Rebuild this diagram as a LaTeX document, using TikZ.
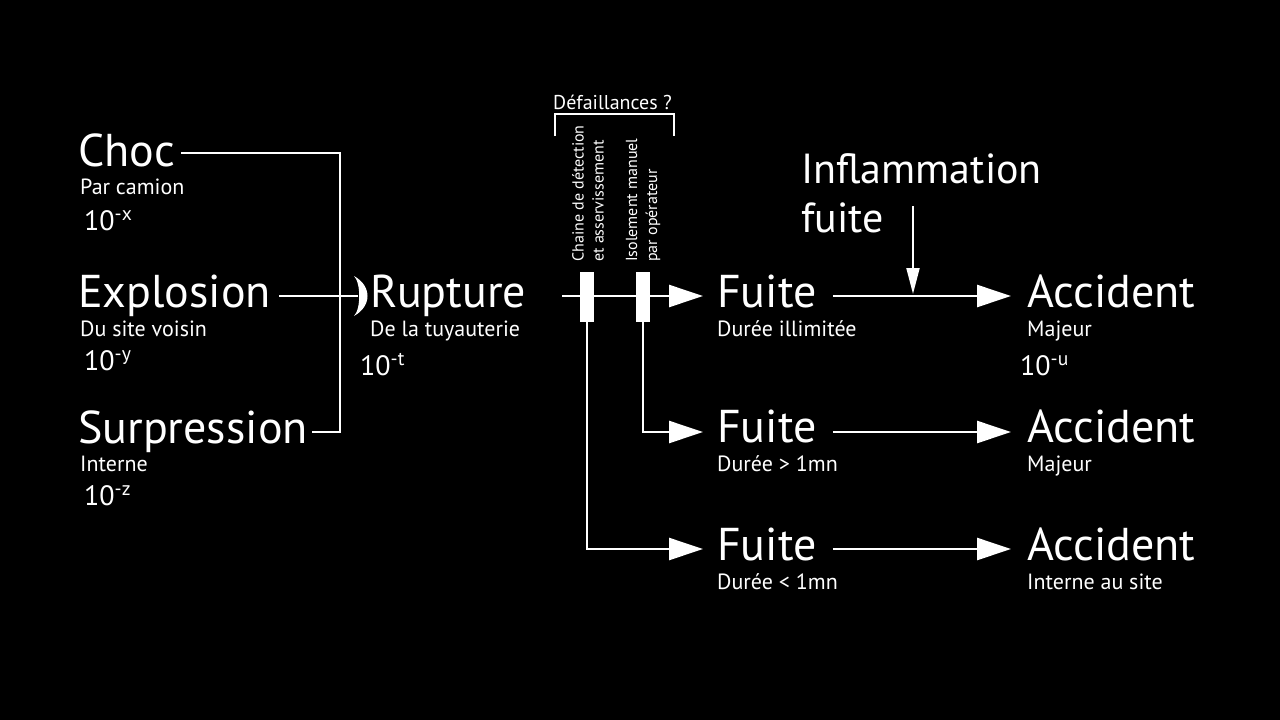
\documentclass[tikz,border=0pt]{standalone}
\usepackage{fontspec}
\setmainfont{PT Sans}
\usetikzlibrary{arrows.meta}

\begin{document}
\begin{tikzpicture}[x=1pt, y=-1pt, color=white,
    big/.style={anchor=base west, inner sep=0pt, font=\fontsize{46}{49}\selectfont},
    sub/.style={anchor=base west, inner sep=0pt, font=\fontsize{22}{24}\selectfont},
    proba/.style={anchor=base west, inner sep=0pt, font=\fontsize{28}{30}\selectfont},
    vtext/.style={anchor=west, inner sep=0pt, rotate=90, align=left, font=\fontsize{16}{20}\selectfont},
    barrier/.style={fill=white, draw=none, minimum width=14pt, minimum height=50pt, inner sep=0pt},
    link/.style={line width=2.5pt},
    flow/.style={link, -{Triangle[length=34pt, width=22pt]}}]

    % Background
    \fill[black] (0,0) rectangle (1280,720);
    \useasboundingbox (0,0) rectangle (1280,720);

    %% Causes
    \node[big] (choc) at (78,166) {Choc};
    \node[sub] (choc-sub) at (80,194) {Par camion};
    \node[proba] (choc-p) at (84,230) {10\textsuperscript{-x}};

    \node[big] (explo) at (78,307) {Explosion};
    \node[sub] (explo-sub) at (80,336) {Du site voisin};
    \node[proba] (explo-p) at (84,370) {10\textsuperscript{-y}};

    \node[big] (surp) at (78,443) {Surpression};
    \node[sub] (surp-sub) at (80,471) {Interne};
    \node[proba] (surp-p) at (84,505) {10\textsuperscript{-z}};

    % Gathering of the causes
    \coordinate (join) at (340,296);
    \coordinate (gate) at (358,296);
    \draw[link] ([shift={(6,-13)}]choc.base east) -| (join);
    \draw[link] ([shift={(4,-11)}]surp.base east) -| (join);
    \draw[link] ([shift={(8,-11)}]explo.base east) -- (gate);
    \fill (354,276) .. controls (361,283) and (361,309) .. (354,316)
        .. controls (372,306) and (372,286) .. (354,276);

    %% Top event
    \node[big] (rupt) at (370,307) {Rupture};
    \node[sub] (rupt-sub) at (370,336) {De la tuyauterie};
    \node[proba] (rupt-p) at (360,375) {10\textsuperscript{-t}};

    %% Safety barriers
    \node[anchor=base west, inner sep=0pt, font=\fontsize{20}{22}\selectfont] (fail) at (553,109) {Défaillances ?};
    \draw[line width=1.5pt] (555,136) -- (555,114) -- (674,114) -- (674,136);
    \node[vtext] (det-txt) at (588,262) {Chaine de détection\\et asservissement};
    \node[vtext] (iso-txt) at (643,262) {Isolement manuel\\par opérateur};
    \node[barrier] (det) at (587,297) {};
    \node[barrier] (iso) at (643,297) {};

    %% Leaks
    \node[big] (fuite1) at (717,307) {Fuite};
    \node[sub] (fuite1-sub) at (717,336) {Durée illimitée};
    \node[big] (fuite2) at (717,442) {Fuite};
    \node[sub] (fuite2-sub) at (717,471) {Durée > 1mn};
    \node[big] (fuite3) at (717,560) {Fuite};
    \node[sub] (fuite3-sub) at (717,589) {Durée < 1mn};

    \coordinate (start) at (562,296);
    \draw[flow] (start) -- ([shift={(-14,-11)}]fuite1.base west);
    \draw[flow] (iso.south) |- ([shift={(-14,-10)}]fuite2.base west);
    \draw[flow] (det.south) |- ([shift={(-14,-11)}]fuite3.base west);
    \fill (det.north west) rectangle (det.south east);
    \fill (iso.north west) rectangle (iso.south east);

    %% Accidents
    \node[big] (acc1) at (1027,307) {Accident};
    \node[sub] (acc1-sub) at (1027,336) {Majeur};
    \node[proba] (acc1-p) at (1020,375) {10\textsuperscript{-u}};
    \node[big] (acc2) at (1027,442) {Accident};
    \node[sub] (acc2-sub) at (1027,471) {Majeur};
    \node[big] (acc3) at (1027,560) {Accident};
    \node[sub] (acc3-sub) at (1027,589) {Interne au site};

    \draw[flow] ([shift={(16,-11)}]fuite1.base east) -- ([shift={(-16,-11)}]acc1.base west);
    \draw[flow] ([shift={(16,-10)}]fuite2.base east) -- ([shift={(-16,-10)}]acc2.base west);
    \draw[flow] ([shift={(16,-11)}]fuite3.base east) -- ([shift={(-16,-11)}]acc3.base west);

    % Ignition
    \node[big, align=left, font=\fontsize{42}{49}\selectfont] (infl) at (801,232) {Inflammation\\fuite};
    \coordinate (ignite) at (913,294);
    \draw[line width=2pt, -{Triangle[length=26pt, width=13pt]}] (913,206) -- (ignite);

\end{tikzpicture}
\end{document}
